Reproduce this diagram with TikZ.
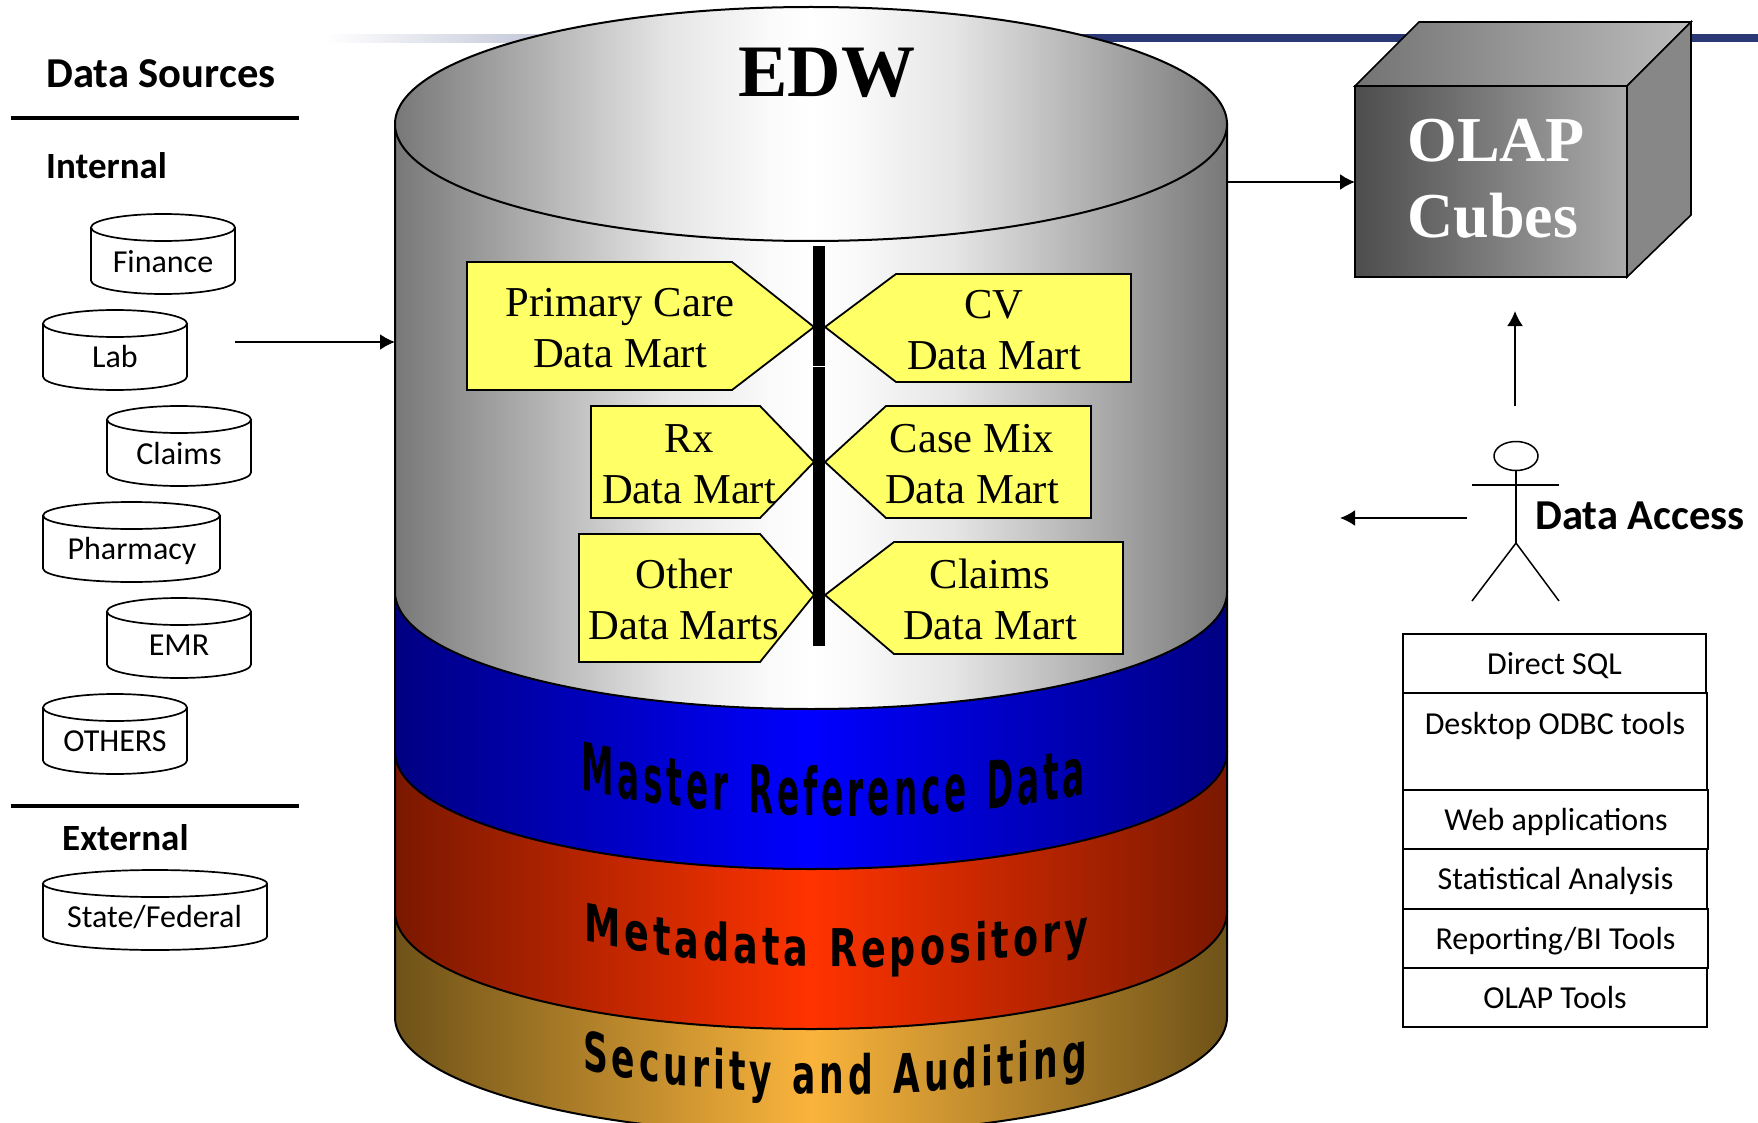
\documentclass[tikz,border=0pt]{standalone}
\usepackage{fontspec}
\setmainfont{Carlito}
\newfontfamily\tms{Liberation Serif}
\newfontfamily\wfont{DejaVu Sans}
\usetikzlibrary{arrows.meta}
\definecolor{navyband}{HTML}{2A3875}
\definecolor{martyellow}{HTML}{FFFF66}
\pgfdeclarehorizontalshading{edwgray}{100bp}{%
  color(0bp)=(black!53);color(25bp)=(black!53);color(36bp)=(black!24);color(41.5bp)=(black!10);
  color(47.5bp)=(black!2);color(50bp)=(white);color(52.5bp)=(black!2);color(58.5bp)=(black!10);
  color(64bp)=(black!24);color(75bp)=(black!53);color(100bp)=(black!53)}
\newdimen\wsum
\newbox\wbox
\newcommand\warp[8]{%
  % #1 prefix, #2 size, #3 left, #4 width, #5 baseline at arc centre, #6 arc centre x, #7 letters, #8 gap
  \def\wf{\wfont\bfseries\fontsize{#2}{#2}\selectfont}%
  \global\wsum=0pt\relax
  \xdef\wcnt{0}%
  \foreach \ch in {#7}{\setbox\wbox=\hbox{\pgfinterruptpicture\wf\ch\endpgfinterruptpicture}\global\advance\wsum by \wd\wbox\relax
    \pgfmathsetmacro\wn{\wcnt+1}\xdef\wcnt{\wn}}%
  \pgfmathsetmacro\sx{(#4-#8*\wcnt)/\the\wsum}%
  \xdef\xcur{#3}%
  \foreach \ch [count=\ii] in {#7}{%
    \setbox\wbox=\hbox{\pgfinterruptpicture\wf\ch\endpgfinterruptpicture}%
    \pgfmathsetmacro\adv{\the\wd\wbox*\sx}%
    \pgfmathsetmacro\uu{(\xcur+\adv/2-#6)/416}%
    \pgfmathsetmacro\rr{sqrt(1-\uu*\uu)}%
    \pgfmathsetmacro\ym{#5+117*(\rr-1)}%
    \pgfmathsetmacro\sl{117*\uu/(416*\rr)}%
    \pgfmathsetmacro\yl{\ym+\sl*\adv/2}%
    \pgfmathsetmacro\bb{\sx*\sl}%
    \begin{scope}[shift={(\xcur,\yl)},cm={\sx,\bb,0,1,(0,0)}]
      \node[inner sep=0pt,outer sep=0pt,anchor=base west,transform shape] (#1\ii) at (0,0) {\wf\ch};
    \end{scope}
    \pgfmathsetmacro\xn{\xcur+\adv+#8}%
    \xdef\xcur{\xn}%
  }%
}
\newcommand\cyl[8]{%
  % #1 name, #2 left, #3 right, #4 top, #5 bottom, #6 text, #7 text x, #8 baseline
  \pgfmathsetmacro\rx{(#3-#2)/2}%
  \pgfmathsetmacro\cx{(#3+#2)/2}%
  \pgfmathsetmacro\yt{#4+13.5}%
  \pgfmathsetmacro\yb{#5-13.5}%
  \draw[cylline] (#2,\yt) -- (#2,\yb) arc[start angle=180,end angle=0,x radius=\rx,y radius=13.5] -- (#3,\yt);
  \draw[cylline] (\cx,\yt) ellipse[x radius=\rx,y radius=13.5];
  \node[txt32] (#1) at (#7,#8) {#6};
}
\newcommand\stackbox[7]{%
  % #1 name, #2 left, #3 right, #4 top, #5 bottom, #6 text x/baseline, #7 text
  \draw[boxline] (#2,#4) rectangle (#3,#5);
  \node[txt32] (#1) at (#6) {#7};
}
\begin{document}
\begin{tikzpicture}[x=1pt,y=-1pt,
  cylline/.style={line width=1.7pt,black},
  boxline/.style={line width=2pt,black},
  txt32/.style={inner sep=0pt,anchor=base,font=\fontsize{32}{38}\selectfont},
  head40/.style={inner sep=0pt,anchor=base west,font=\bfseries\fontsize{42.6}{48}\selectfont},
  head36/.style={inner sep=0pt,anchor=base west,font=\bfseries\fontsize{37}{44}\selectfont},
  rule/.style={line width=4pt,black},
  edge/.style={line width=2pt,black},
  conn/.style={line width=2pt,black,-{Latex[length=15pt,width=16pt]}},
  stick/.style={line width=1.5pt,black},
  mart/.style={line width=1.8pt,draw=black,fill=martyellow},
  marttext/.style={inner sep=0pt,align=center,font=\tms\fontsize{42.6}{51}\selectfont},
  olaptext/.style={inner sep=0pt,align=left,text=white,font=\tms\bfseries\fontsize{64}{76}\selectfont}]
\clip (0,0) rectangle (1758,1123);
\fill[white] (0,0) rectangle (1758,1123);

% band behind everything
\shade[left color=white,right color=navyband] (325,34.5) rectangle (1090,42.5);
\fill[navyband] (1090,34.5) rectangle (1758,42.5);

% main cylinder, bottom layer first
\shade[edge,draw=black,left color={rgb,255:red,110;green,82;blue,24},right color={rgb,255:red,110;green,82;blue,24},middle color={rgb,255:red,250;green,180;blue,60}]
  (395,912) -- (395,1017) arc[start angle=180,end angle=0,x radius=416,y radius=117] -- (1227,912) -- cycle;
\shade[edge,draw=black,left color={rgb,255:red,122;green,24;blue,0},right color={rgb,255:red,122;green,24;blue,0},middle color={rgb,255:red,255;green,51;blue,0}]
  (395,752) -- (395,912) arc[start angle=180,end angle=0,x radius=416,y radius=117] -- (1227,752) -- cycle;
\shade[edge,draw=black,left color={rgb,255:red,0;green,0;blue,130},right color={rgb,255:red,0;green,0;blue,130},middle color={rgb,255:red,0;green,0;blue,255}]
  (395,592) -- (395,752) arc[start angle=180,end angle=0,x radius=416,y radius=117] -- (1227,592) -- cycle;
\shade[edge,draw=black,shading=edwgray]
  (395,124) -- (395,592) arc[start angle=180,end angle=0,x radius=416,y radius=117] -- (1227,124) -- cycle;
\shade[edge,draw=black,shading=edwgray]
  (811,124) ellipse[x radius=416,y radius=117];
\node[inner sep=0pt,font=\tms\bfseries\fontsize{74}{80}\selectfont] (edw) at (827,73) {EDW};

% layer labels
\warp{mrd}{66}{581}{508}{816}{845}{M,a,s,t,e,r,~,R,e,f,e,r,e,n,c,e,~,D,a,t,a}{4}
\warp{mdr}{52}{584}{508}{967}{848}{M,e,t,a,d,a,t,a,~,R,e,p,o,s,i,t,o,r,y}{4}
\warp{sec}{54}{583}{508}{1094}{838}{S,e,c,u,r,i,t,y,~,a,n,d,~,A,u,d,i,t,i,n,g}{4}

% data marts
\draw[mart] (467,262) -- (732,262) -- (814,327) -- (732,390) -- (467,390) -- cycle;
\draw[mart] (1131,274) -- (896,274) -- (825,327) -- (896,382) -- (1131,382) -- cycle;
\draw[mart] (591,406) -- (760,406) -- (814,462) -- (760,518) -- (591,518) -- cycle;
\draw[mart] (1091,406) -- (886,406) -- (825,462) -- (886,518) -- (1091,518) -- cycle;
\draw[mart] (579,534) -- (760,534) -- (814,595) -- (760,662) -- (579,662) -- cycle;
\draw[mart] (1123,542) -- (894,542) -- (825,595) -- (894,654) -- (1123,654) -- cycle;
\fill[black] (813,246) rectangle (825,646);
\fill[white] (813,365.5) rectangle (825,366.5);
\node[marttext] (pc) at (620,327.5) {\rule{0pt}{30pt}Primary Care\\Data Mart};
\node[marttext] (cv) at (994,329) {\rule{0pt}{30pt}CV\\Data Mart};
\node[marttext] (rx) at (689,463.5) {\rule{0pt}{30pt}Rx\\Data Mart};
\node[marttext] (cm) at (972,463.5) {\rule{0pt}{30pt}Case Mix\\Data Mart};
\node[marttext] (ot) at (684,599.5) {\rule{0pt}{30pt}Other\\Data Marts};
\node[marttext] (cl) at (990,599.5) {\rule{0pt}{30pt}Claims\\Data Mart};

% OLAP cube
\shade[line width=1.6pt,draw=black,left color=black!55,right color=black!26]
  (1355,86) -- (1419,22) -- (1691,22) -- (1627,86) -- cycle;
\fill[black!47,draw=black,line width=1.6pt] (1627,86) -- (1691,22) -- (1691,215) -- (1627,277) -- cycle;
\shade[line width=2.4pt,draw=black,left color=black!70,right color=black!33]
  (1355,86) rectangle (1627,277);
\node[olaptext,anchor=north west] (olap) at (1407,119) {OLAP\\Cubes};

% connectors
\coordinate (edwR) at (1228,182);
\coordinate (cubeL) at (1355,182);
\coordinate (srcEnd) at (235,342);
\coordinate (edwL) at (395,342);
\coordinate (upFrom) at (1515,406);
\coordinate (upTo) at (1515,311);
\coordinate (leftFrom) at (1467,518);
\coordinate (leftTo) at (1340,518);
\draw[conn] (edwR) -- (cubeL);
\draw[conn] (srcEnd) -- (edwL);
\draw[conn] (upFrom) -- (upTo);
\draw[conn] (leftFrom) -- (leftTo);

% left pane
\node[head40] (dsrc) at (46,88) {Data Sources};
\draw[rule] (11,118) -- (299,118);
\node[head36] (int) at (46,179) {Internal};
\cyl{fin}{91}{235}{214}{294}{Finance}{163}{272.5}
\cyl{lab}{43}{187}{310}{390}{Lab}{115}{367.5}
\cyl{clm}{107}{251}{406}{486}{Claims}{179}{464.5}
\cyl{pha}{43}{220}{502}{582}{Pharmacy}{132}{559.5}
\cyl{emr}{107}{251}{598}{678}{EMR}{179}{655.5}
\cyl{oth}{43}{187}{694}{774}{OTHERS}{115}{751.5}
\draw[rule] (11,806) -- (299,806);
\node[head36] (ext) at (62,850) {External};
\cyl{stf}{43}{267}{870}{950}{State/Federal}{154.5}{927.5}

% actor
\draw[stick] (1516,456) ellipse[x radius=22,y radius=14.5];
\draw[stick] (1516,470.5) -- (1516,543);
\draw[stick] (1472,485) -- (1559,485);
\draw[stick] (1472,601) -- (1516,543) -- (1559,601);
\node[head40] (dacc) at (1535,529) {Data Access};

% access stack
\stackbox{sql}{1403}{1706}{634}{693}{1554.5,674.5}{Direct SQL}
\stackbox{odbc}{1403}{1707}{693}{790}{1555,734.5}{Desktop ODBC tools}
\stackbox{web}{1403}{1708}{790}{849}{1556,830.5}{Web applications}
\stackbox{stat}{1403}{1707}{849}{909}{1555.5,889.5}{Statistical Analysis}
\stackbox{rep}{1403}{1708}{909}{968}{1555.5,949.5}{Reporting/BI Tools}
\stackbox{olapt}{1403}{1707}{968}{1027}{1555,1008.5}{OLAP Tools}
\end{tikzpicture}
\end{document}
